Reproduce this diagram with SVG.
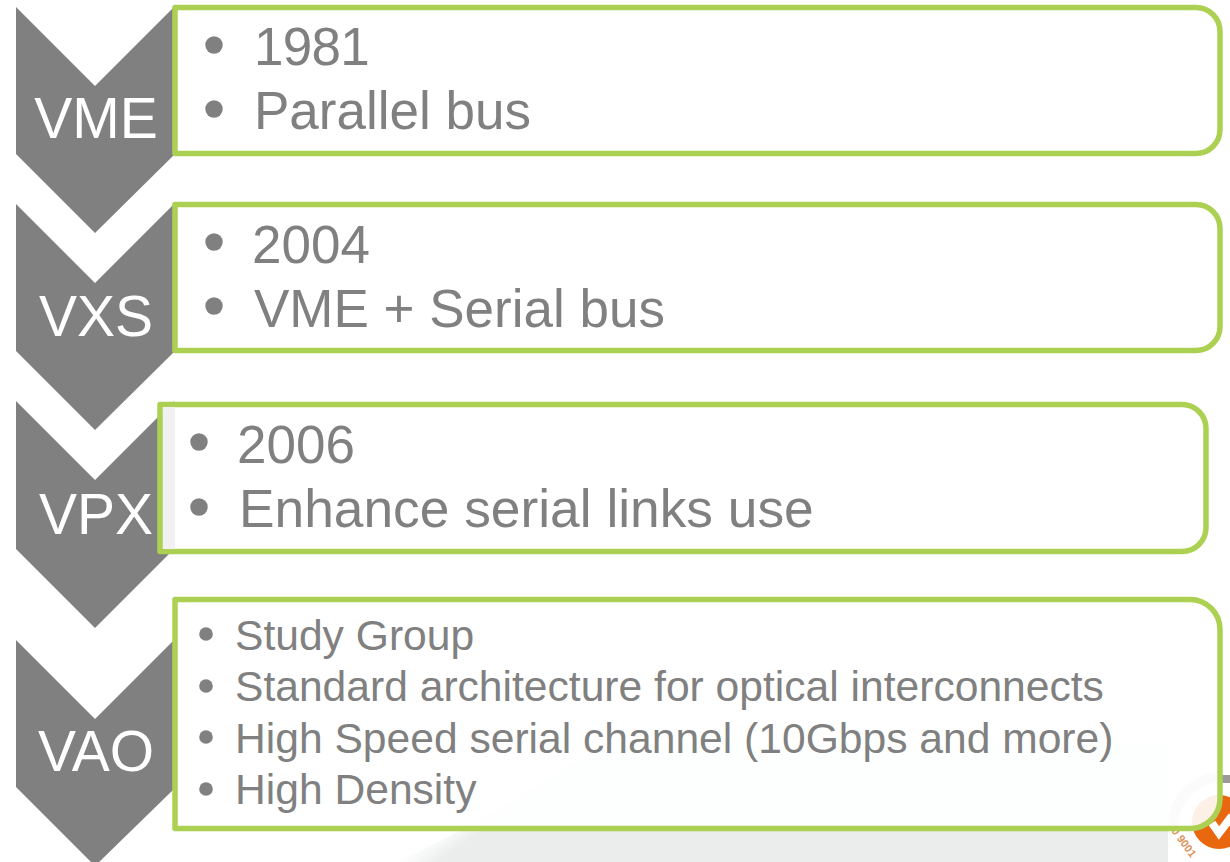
<svg xmlns="http://www.w3.org/2000/svg" width="1230" height="862" viewBox="0 0 1230 862">
<defs>
<linearGradient id="bg" gradientUnits="userSpaceOnUse" x1="430" y1="838" x2="444" y2="858"><stop offset="0" stop-color="#fff"/><stop offset="1" stop-color="#ebeded"/></linearGradient>
<style>
.chev{fill:#808080}
.lab{font-family:"Liberation Sans",Arial,sans-serif;fill:#fff;font-size:57px;text-anchor:middle}
.box{fill:#fff;fill-opacity:.9;stroke:#acd152;stroke-width:5.5;stroke-linejoin:round}
.t{font-family:"Liberation Sans",Arial,sans-serif;fill:#808080;font-size:53px}
.s{font-family:"Liberation Sans",Arial,sans-serif;fill:#808080;font-size:42.6px}
</style>
</defs>
<rect width="1230" height="862" fill="#fff"/>
<path d="M395 862Q480 825 600 745H1168V862Z" fill="url(#bg)"/>
<g id="logo">
<rect x="1168" y="772" width="62" height="90" fill="#fff"/>
<path d="M1173 826A50 50 0 0 1 1222 777" fill="none" stroke="#d4d4d4" stroke-width="10"/>
<rect x="1222" y="775" width="8" height="8" fill="#9a9a9a"/>
<circle cx="1219" cy="822" r="27" fill="#e9680f"/>
<path d="M1212 823L1219 833L1232 816" fill="none" stroke="#fff" stroke-width="8"/>
<text x="1171" y="831" transform="rotate(54 1171 831)" font-family="Liberation Sans,sans-serif" font-weight="bold" font-size="11" fill="#e0915a">0 9001</text>
</g>
<g id="vme">
<path class="chev" d="M16 7L95 86L174 7V155L95 233L16 154Z"/>
<text class="lab" x="96" y="138">VME</text>
<path class="box" d="M175 7.500H1196A24 24 0 0 1 1220 31.500V129.500A24 24 0 0 1 1196 153.500H175Z"/>
<circle cx="214" cy="45" r="8.700" fill="#808080"/><circle cx="214" cy="109" r="8.700" fill="#808080"/>
<text class="t" x="254" y="65" letter-spacing="-.7">1981</text><text class="t" x="254" y="129">Parallel bus</text>
</g>
<g id="vxs">
<path class="chev" d="M16 204L95 283L174 204V352L95 430L16 351Z"/>
<text class="lab" x="96" y="336">VXS</text>
<path class="box" d="M175 204.500H1196A24 24 0 0 1 1220 228.500V326.500A24 24 0 0 1 1196 350.500H175Z"/>
<circle cx="214" cy="242" r="8.700" fill="#808080"/><circle cx="214" cy="306" r="8.700" fill="#808080"/>
<text class="t" x="252" y="263">2004</text><text class="t" x="254" y="327">VME + Serial bus</text>
</g>
<g id="vpx">
<path class="chev" d="M16 401L95 480L174 401V549L95 628L16 549Z"/>
<text class="lab" x="96" y="534">VPX</text>
<path class="box" d="M160 404.500H1182A24 24 0 0 1 1206 428.500V527.500A24 24 0 0 1 1182 551.500H160Z"/>
<rect x="163" y="407" width="12" height="142" fill="#f1f1f1"/>
<circle cx="199" cy="442" r="8.700" fill="#808080"/><circle cx="199" cy="507" r="8.700" fill="#808080"/>
<text class="t" x="237" y="463">2006</text><text class="t" x="239" y="527" style="font-size:53.300px">Enhance serial links use</text>
</g>
<g id="vao">
<path class="chev" d="M16 640L95 719L174 640V789L95 866L16 787Z"/>
<text class="lab" x="96" y="771">VAO</text>
<path class="box" d="M175 599.500H1190A30 30 0 0 1 1220 629.500V798.500A30 30 0 0 1 1190 828.500H175Z"/>
<g fill="#808080"><circle cx="206" cy="634" r="6.800"/><circle cx="206" cy="686" r="6.800"/><circle cx="206" cy="737" r="6.800"/><circle cx="206" cy="789" r="6.800"/></g>
<text class="s" x="235" y="650">Study Group</text>
<text class="s" x="235" y="701">Standard architecture for optical interconnects</text>
<text class="s" x="235" y="753">High Speed serial channel (10Gbps and more)</text>
<text class="s" x="235" y="804">High Density</text>
</g>
</svg>
